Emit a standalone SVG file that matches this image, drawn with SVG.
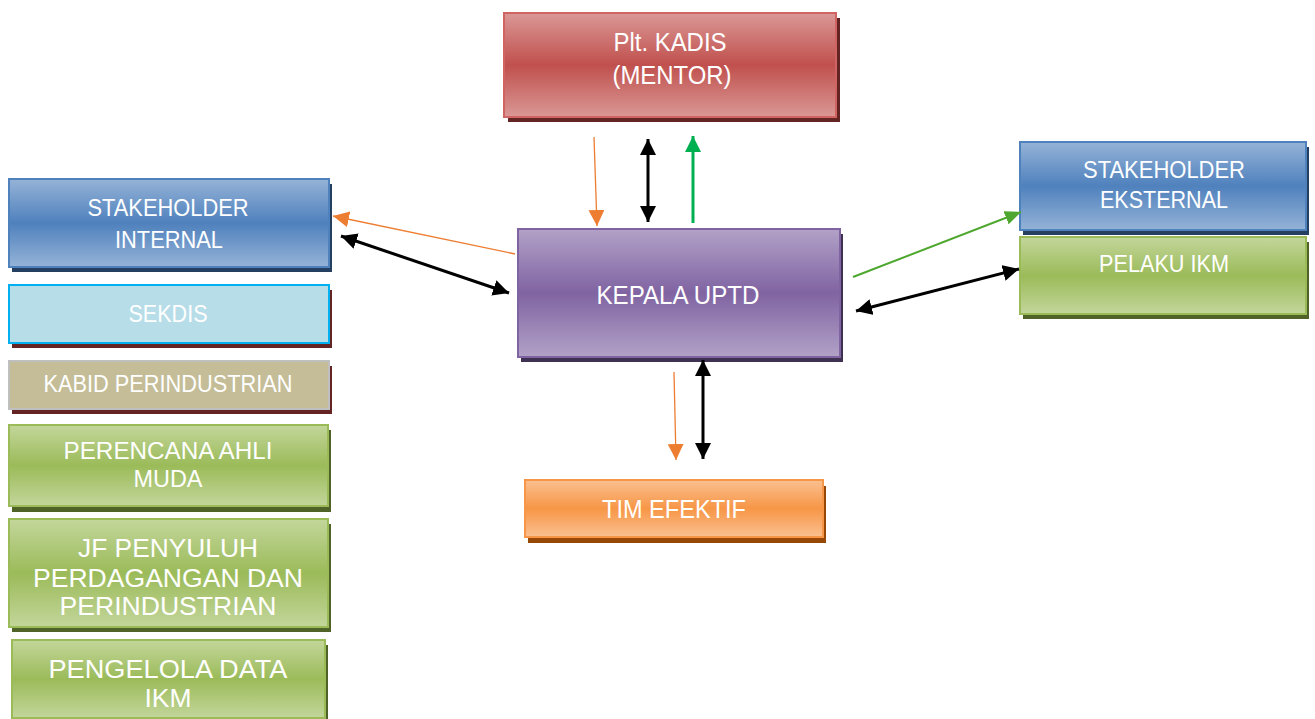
<svg xmlns="http://www.w3.org/2000/svg" width="1315" height="719" viewBox="0 0 1315 719">
<defs>
<linearGradient id="gRed" x1="0" y1="0" x2="0" y2="1"><stop offset="0" stop-color="#da9896"/><stop offset="0.5" stop-color="#c0504d"/><stop offset="1" stop-color="#da9896"/></linearGradient>
<linearGradient id="gBlue" x1="0" y1="0" x2="0" y2="1"><stop offset="0" stop-color="#95b3d7"/><stop offset="0.5" stop-color="#4f81bd"/><stop offset="1" stop-color="#95b3d7"/></linearGradient>
<linearGradient id="gPurple" x1="0" y1="0" x2="0" y2="1"><stop offset="0" stop-color="#b2a1c7"/><stop offset="0.5" stop-color="#8064a2"/><stop offset="1" stop-color="#b2a1c7"/></linearGradient>
<linearGradient id="gGreen" x1="0" y1="0" x2="0" y2="1"><stop offset="0" stop-color="#c3d69b"/><stop offset="0.5" stop-color="#9bbb59"/><stop offset="1" stop-color="#c3d69b"/></linearGradient>
<linearGradient id="gOrange" x1="0" y1="0" x2="0" y2="1"><stop offset="0" stop-color="#fac090"/><stop offset="0.5" stop-color="#f79646"/><stop offset="1" stop-color="#fac090"/></linearGradient>
<marker id="mOr" markerUnits="userSpaceOnUse" markerWidth="16" markerHeight="16" refX="16" refY="8" orient="auto"><path d="M0,0 L16,8 L0,16 z" fill="#ed7d31"/></marker>
<marker id="mBk" markerUnits="userSpaceOnUse" markerWidth="16" markerHeight="16" refX="16" refY="8" orient="auto-start-reverse"><path d="M0,0 L16,8 L0,16 z" fill="#000"/></marker>
<marker id="mGr" markerUnits="userSpaceOnUse" markerWidth="16" markerHeight="16" refX="16" refY="8" orient="auto"><path d="M0,0 L16,8 L0,16 z" fill="#00b050"/></marker>
<marker id="mGr2" markerUnits="userSpaceOnUse" markerWidth="16" markerHeight="14" refX="16" refY="7" orient="auto"><path d="M0,0 L16,7 L0,14 z" fill="#4ea72e"/></marker>
</defs>
<style>
text{font-family:"Liberation Sans",Arial,sans-serif;fill:#fff;text-anchor:middle;}
.t24{font-size:24px;}
.t26{font-size:26px;}
.or{stroke:#ed7d31;stroke-width:1.3;fill:none;marker-end:url(#mOr);}
.bk{stroke:#000;stroke-width:3;fill:none;marker-start:url(#mBk);marker-end:url(#mBk);}
</style>

<g id="kadis">
<rect x="508" y="18" width="332" height="104" fill="#632423"/>
<rect x="504" y="13" width="332" height="104" fill="url(#gRed)" stroke="#cf6462" stroke-width="2"/>
<text class="t26" x="670" y="51" textLength="113" lengthAdjust="spacingAndGlyphs">Plt. KADIS</text>
<text class="t26" x="672" y="84" textLength="119" lengthAdjust="spacingAndGlyphs">(MENTOR)</text>
</g>

<g id="stakeholder-internal">
<rect x="12" y="184" width="320" height="88" fill="#243f60"/>
<rect x="9" y="179" width="320" height="88" fill="url(#gBlue)" stroke="#4f81bd" stroke-width="2"/>
<text class="t24" x="168" y="216" textLength="161" lengthAdjust="spacingAndGlyphs">STAKEHOLDER</text>
<text class="t24" x="169" y="248" textLength="108" lengthAdjust="spacingAndGlyphs">INTERNAL</text>
</g>

<g id="sekdis">
<rect x="12" y="290" width="320" height="58" fill="#632423"/>
<rect x="9" y="285" width="320" height="58" fill="#b7dde8" stroke="#00b0f0" stroke-width="2"/>
<text class="t24" x="168" y="322" textLength="79" lengthAdjust="spacingAndGlyphs">SEKDIS</text>
</g>

<g id="kabid">
<rect x="12" y="366" width="320" height="48" fill="#632423"/>
<rect x="9" y="361" width="320" height="48" fill="#c4bd97" stroke="#bfbfbf" stroke-width="2"/>
<text class="t24" x="168" y="392" textLength="249" lengthAdjust="spacingAndGlyphs">KABID PERINDUSTRIAN</text>
</g>

<g id="perencana">
<rect x="12" y="430" width="319" height="82" fill="#4f6228"/>
<rect x="9" y="425" width="319" height="81" fill="url(#gGreen)" stroke="#9bbb59" stroke-width="2"/>
<text class="t24" x="168" y="459" textLength="209" lengthAdjust="spacingAndGlyphs">PERENCANA AHLI</text>
<text class="t24" x="168" y="487" textLength="69" lengthAdjust="spacingAndGlyphs">MUDA</text>
</g>

<g id="jf-penyuluh">
<rect x="12" y="524" width="319" height="108" fill="#4f6228"/>
<rect x="9" y="519" width="319" height="108" fill="url(#gGreen)" stroke="#9bbb59" stroke-width="2"/>
<text class="t26" x="168" y="557" textLength="180" lengthAdjust="spacingAndGlyphs">JF PENYULUH</text>
<text class="t26" x="168" y="587" textLength="270" lengthAdjust="spacingAndGlyphs">PERDAGANGAN DAN</text>
<text class="t26" x="168" y="615" textLength="217" lengthAdjust="spacingAndGlyphs">PERINDUSTRIAN</text>
</g>

<g id="pengelola">
<rect x="15" y="645" width="313" height="78" fill="#4f6228"/>
<rect x="12" y="640" width="313" height="78" fill="url(#gGreen)" stroke="#9bbb59" stroke-width="2"/>
<text class="t26" x="168" y="678" textLength="239" lengthAdjust="spacingAndGlyphs">PENGELOLA DATA</text>
<text class="t26" x="168" y="707" textLength="47" lengthAdjust="spacingAndGlyphs">IKM</text>
</g>

<g id="kepala-uptd">
<rect x="521" y="234" width="322" height="128" fill="#3f3151"/>
<rect x="518" y="229" width="322" height="128" fill="url(#gPurple)" stroke="#8064a2" stroke-width="2"/>
<text class="t26" x="678" y="304" textLength="163" lengthAdjust="spacingAndGlyphs">KEPALA UPTD</text>
</g>

<g id="stakeholder-eksternal">
<rect x="1023" y="147" width="286" height="88" fill="#243f60"/>
<rect x="1020" y="142" width="286" height="88" fill="url(#gBlue)" stroke="#4f81bd" stroke-width="2"/>
<text class="t24" x="1164" y="178" textLength="162" lengthAdjust="spacingAndGlyphs">STAKEHOLDER</text>
<text class="t24" x="1164" y="208" textLength="128" lengthAdjust="spacingAndGlyphs">EKSTERNAL</text>
</g>

<g id="pelaku-ikm">
<rect x="1023" y="242" width="286" height="77" fill="#4f6228"/>
<rect x="1020" y="237" width="286" height="77" fill="url(#gGreen)" stroke="#9bbb59" stroke-width="2"/>
<text class="t24" x="1164" y="272" textLength="130" lengthAdjust="spacingAndGlyphs">PELAKU IKM</text>
</g>

<g id="tim-efektif">
<rect x="528" y="486" width="298" height="57" fill="#974806"/>
<rect x="525" y="480" width="298" height="57" fill="url(#gOrange)" stroke="#f79646" stroke-width="2"/>
<text class="t26" x="674" y="518" textLength="144" lengthAdjust="spacingAndGlyphs">TIM EFEKTIF</text>
</g>

<g id="connectors">
<line class="or" x1="594" y1="137" x2="597" y2="226"/>
<line class="bk" x1="648" y1="139" x2="648" y2="222"/>
<line x1="693" y1="223" x2="693" y2="136" stroke="#00b050" stroke-width="3" marker-end="url(#mGr)"/>
<line class="or" x1="515" y1="254" x2="333" y2="216"/>
<line class="bk" x1="341" y1="236" x2="509" y2="293"/>
<line x1="853" y1="277" x2="1021" y2="212" stroke="#4ea72e" stroke-width="2" marker-end="url(#mGr2)"/>
<line class="bk" x1="856" y1="311" x2="1019" y2="269"/>
<line class="or" x1="674" y1="372" x2="676" y2="460"/>
<line class="bk" x1="703" y1="360" x2="703" y2="459"/>
</g>
</svg>
